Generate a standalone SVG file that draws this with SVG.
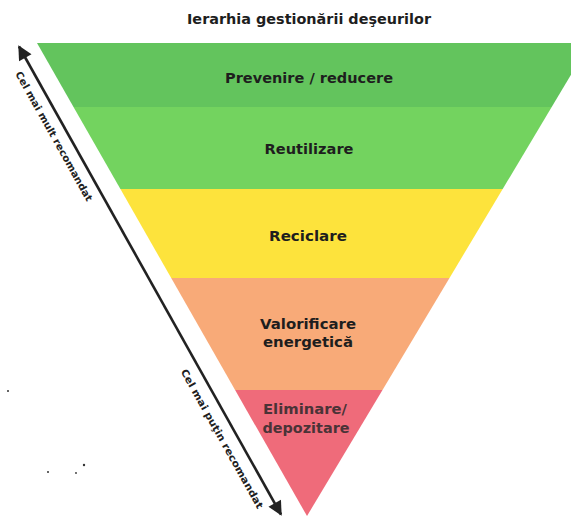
<svg xmlns="http://www.w3.org/2000/svg" width="571" height="519" viewBox="0 0 571 519">
<style>
.t{font-family:"DejaVu Sans","Liberation Sans",sans-serif;font-weight:bold;fill:#1e1e1e;text-anchor:middle}
.b{font-size:14.5px}
.s{font-size:10px}
.ar{stroke:#222;stroke-width:2.6;fill:none}
</style>
<defs>
<marker id="ah" viewBox="0 0 10 10" refX="9" refY="5" markerWidth="6" markerHeight="5.5" orient="auto-start-reverse" markerUnits="strokeWidth">
<path d="M0,0 L10,5 L0,10 z" fill="#222"/>
</marker>
</defs>
<rect width="571" height="519" fill="#ffffff"/>
<text class="t" x="309" y="24" font-size="13.5" textLength="244" lengthAdjust="spacingAndGlyphs">Ierarhia gestionării deşeurilor</text>
<g id="prevenire">
<polygon points="37,43 590,43 551.7,107 73.5,107" fill="#63c45d"/>
<text class="t b" x="309" y="83" textLength="168" lengthAdjust="spacingAndGlyphs">Prevenire / reducere</text>
</g>
<g id="reutilizare">
<polygon points="73.5,107 551.7,107 502.7,189 120.4,189" fill="#73d35f"/>
<text class="t b" x="309" y="154" textLength="89" lengthAdjust="spacingAndGlyphs">Reutilizare</text>
</g>
<g id="reciclare">
<polygon points="120.4,189 502.7,189 449.5,278 171.2,278" fill="#fde33c"/>
<text class="t b" x="308" y="241" textLength="78" lengthAdjust="spacingAndGlyphs">Reciclare</text>
</g>
<g id="valorificare">
<polygon points="171.2,278 449.5,278 382.5,390 235.1,390" fill="#f8aa78"/>
<text class="t b" x="308" y="329" textLength="96" lengthAdjust="spacingAndGlyphs">Valorificare</text>
<text class="t b" x="308" y="347" textLength="90" lengthAdjust="spacingAndGlyphs">energetică</text>
</g>
<g id="eliminare">
<polygon points="235.1,390 382.5,390 307,516" fill="#ef6b7a"/>
<text class="t b" x="305" y="414" fill="#4a3337" style="fill:#4a3337" textLength="84" lengthAdjust="spacingAndGlyphs">Eliminare/</text>
<text class="t b" x="306" y="433" style="fill:#4a3337" textLength="87" lengthAdjust="spacingAndGlyphs">depozitare</text>
</g>
<g id="connectors">
<line class="ar" x1="19" y1="46.5" x2="281" y2="514.5" marker-start="url(#ah)" marker-end="url(#ah)"/>
<text class="t s" transform="translate(51,138) rotate(60.75)" textLength="147" lengthAdjust="spacingAndGlyphs">Cel mai mult recomandat</text>
<text class="t s" transform="translate(219,440.5) rotate(60.75)" textLength="158" lengthAdjust="spacingAndGlyphs">Cel mai puţin recomandat</text>
</g>
<g fill="#333">
<circle cx="8" cy="391" r="1"/>
<circle cx="48" cy="472" r="1"/>
<circle cx="76" cy="473" r="0.9"/>
<circle cx="84" cy="465" r="1.2"/>
</g>
</svg>
